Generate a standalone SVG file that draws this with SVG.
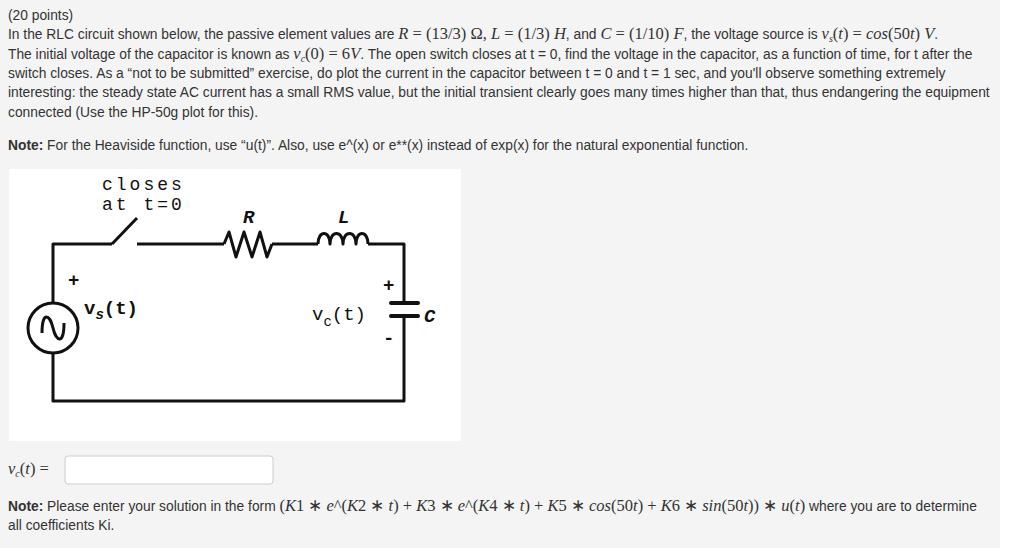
<svg xmlns="http://www.w3.org/2000/svg" width="1024" height="554" viewBox="0 0 1024 554">
<style>
.t{font-family:"Liberation Sans",Arial,sans-serif;font-size:13.8px;fill:#333}
.m{font-family:"Liberation Serif","Times New Roman",serif;font-size:16.5px;fill:#333}
.mi{font-style:italic}
.c{font-family:"Liberation Mono","Courier New",monospace;font-size:19px;fill:#111}
.sp{letter-spacing:3px;font-size:18px}
.w{fill:none;stroke:#111;stroke-width:3;stroke-linejoin:round}
</style>
<rect x="0" y="0" width="1000" height="548" fill="#f4f4f4"/>
<g id="text">
<text class="t" x="8" y="20">(20 points)</text>
<text class="t" x="8" y="39">In the RLC circuit shown below, the passive element values are <tspan class="m"><tspan class="mi">R</tspan> = (13/3) Ω, <tspan class="mi">L</tspan> = (1/3) <tspan class="mi">H</tspan></tspan>, and <tspan class="m"><tspan class="mi">C</tspan> = (1/10) <tspan class="mi">F</tspan></tspan>, the voltage source is <tspan class="m"><tspan class="mi">v<tspan font-size="10" dy="3">s</tspan></tspan><tspan dy="-3">(</tspan><tspan class="mi">t</tspan>) = <tspan class="mi">cos</tspan>(50<tspan class="mi">t</tspan>) <tspan class="mi">V</tspan></tspan>.</text>
<text class="t" x="8" y="59">The initial voltage of the capacitor is known as <tspan class="m"><tspan class="mi">v<tspan font-size="10" dy="3">c</tspan></tspan><tspan dy="-3">(0) = 6</tspan><tspan class="mi">V</tspan></tspan>. The open switch closes at t = 0, find the voltage in the capacitor, as a function of time, for t after the</text>
<text class="t" x="8" y="78">switch closes. As a “not to be submitted” exercise, do plot the current in the capacitor between t = 0 and t = 1 sec, and you'll observe something extremely</text>
<text class="t" x="8" y="97">interesting: the steady state AC current has a small RMS value, but the initial transient clearly goes many times higher than that, thus endangering the equipment</text>
<text class="t" x="8" y="117">connected (Use the HP-50g plot for this).</text>
<text class="t" x="8" y="150"><tspan font-weight="bold">Note:</tspan> For the Heaviside function, use “u(t)”. Also, use e^(x) or e**(x) instead of exp(x) for the natural exponential function.</text>
<text class="m" x="8" y="474"><tspan class="mi">v<tspan font-size="10" dy="3">c</tspan></tspan><tspan dy="-3">(</tspan><tspan class="mi">t</tspan>) =</text>
<text class="t" x="8" y="511"><tspan font-weight="bold">Note:</tspan> Please enter your solution in the form <tspan class="m">(<tspan class="mi">K</tspan>1 ∗ <tspan class="mi">e</tspan>^(<tspan class="mi">K</tspan>2 ∗ <tspan class="mi">t</tspan>) + <tspan class="mi">K</tspan>3 ∗ <tspan class="mi">e</tspan>^(<tspan class="mi">K</tspan>4 ∗ <tspan class="mi">t</tspan>) + <tspan class="mi">K</tspan>5 ∗ <tspan class="mi">cos</tspan>(50<tspan class="mi">t</tspan>) + <tspan class="mi">K</tspan>6 ∗ <tspan class="mi">sin</tspan>(50<tspan class="mi">t</tspan>)) ∗ <tspan class="mi">u</tspan>(<tspan class="mi">t</tspan>)</tspan> where you are to determine</text>
<text class="t" x="8" y="530">all coefficients Ki.</text>
</g>
<g id="input"><rect x="65" y="456" width="208" height="28" rx="3" fill="#fff" stroke="#ccc"/></g>
<rect x="9" y="169" width="452" height="272" fill="#fff"/>
<g id="connectors">
<path class="w" d="M112,244 H53 V303 M53,353 V401 H404 V316 M404,303 V244 H368 M318,244 H272 M224,244 H137"/>
<path class="w" d="M112,244 L137,218"/>
<path class="w" d="M224,244 L229,232 L236,257 L244,232 L252,257 L260,232 L267,257 L272,244"/>
<path class="w" d="M318,244 C318,230 330,230 330,244 C330,230 343,230 343,244 C343,230 356,230 356,244 C356,230 368,230 368,244"/>
</g>
<g id="source"><circle cx="53" cy="328" r="25" fill="none" stroke="#111" stroke-width="3"/>
<path class="w" d="M42,333 C42,310 50,315 53,328 C56,341 64,346 64,323"/></g>
<g id="cap"><path d="M391,303 H418 M391,316 H418" stroke="#111" stroke-width="4" stroke-linecap="round"/></g>
<g id="labels">
<text class="c sp" x="102" y="190">closes</text>
<text class="c sp" x="102" y="210">at t=0</text>
<text class="c" x="243" y="223" font-weight="bold" font-style="italic">R</text>
<text class="c" x="338" y="223" font-weight="bold" font-style="italic">L</text>
<text class="c" x="68" y="286" font-size="14" font-weight="bold">+</text>
<text class="c" x="84" y="314" font-weight="bold" font-size="20">v<tspan font-size="14" font-style="italic" dy="5">s</tspan><tspan dy="-5">(t)</tspan></text>
<text class="c" x="383" y="291" font-size="14" font-weight="bold">+</text>
<text class="c" x="312" y="320" font-size="20">v<tspan font-size="14" dy="6">c</tspan><tspan dy="-6">(t)</tspan></text>
<text class="c" x="424" y="322" font-weight="bold" font-style="italic">C</text>
<text class="c" x="383" y="344" font-size="14" font-weight="bold">-</text>
</g>
</svg>
